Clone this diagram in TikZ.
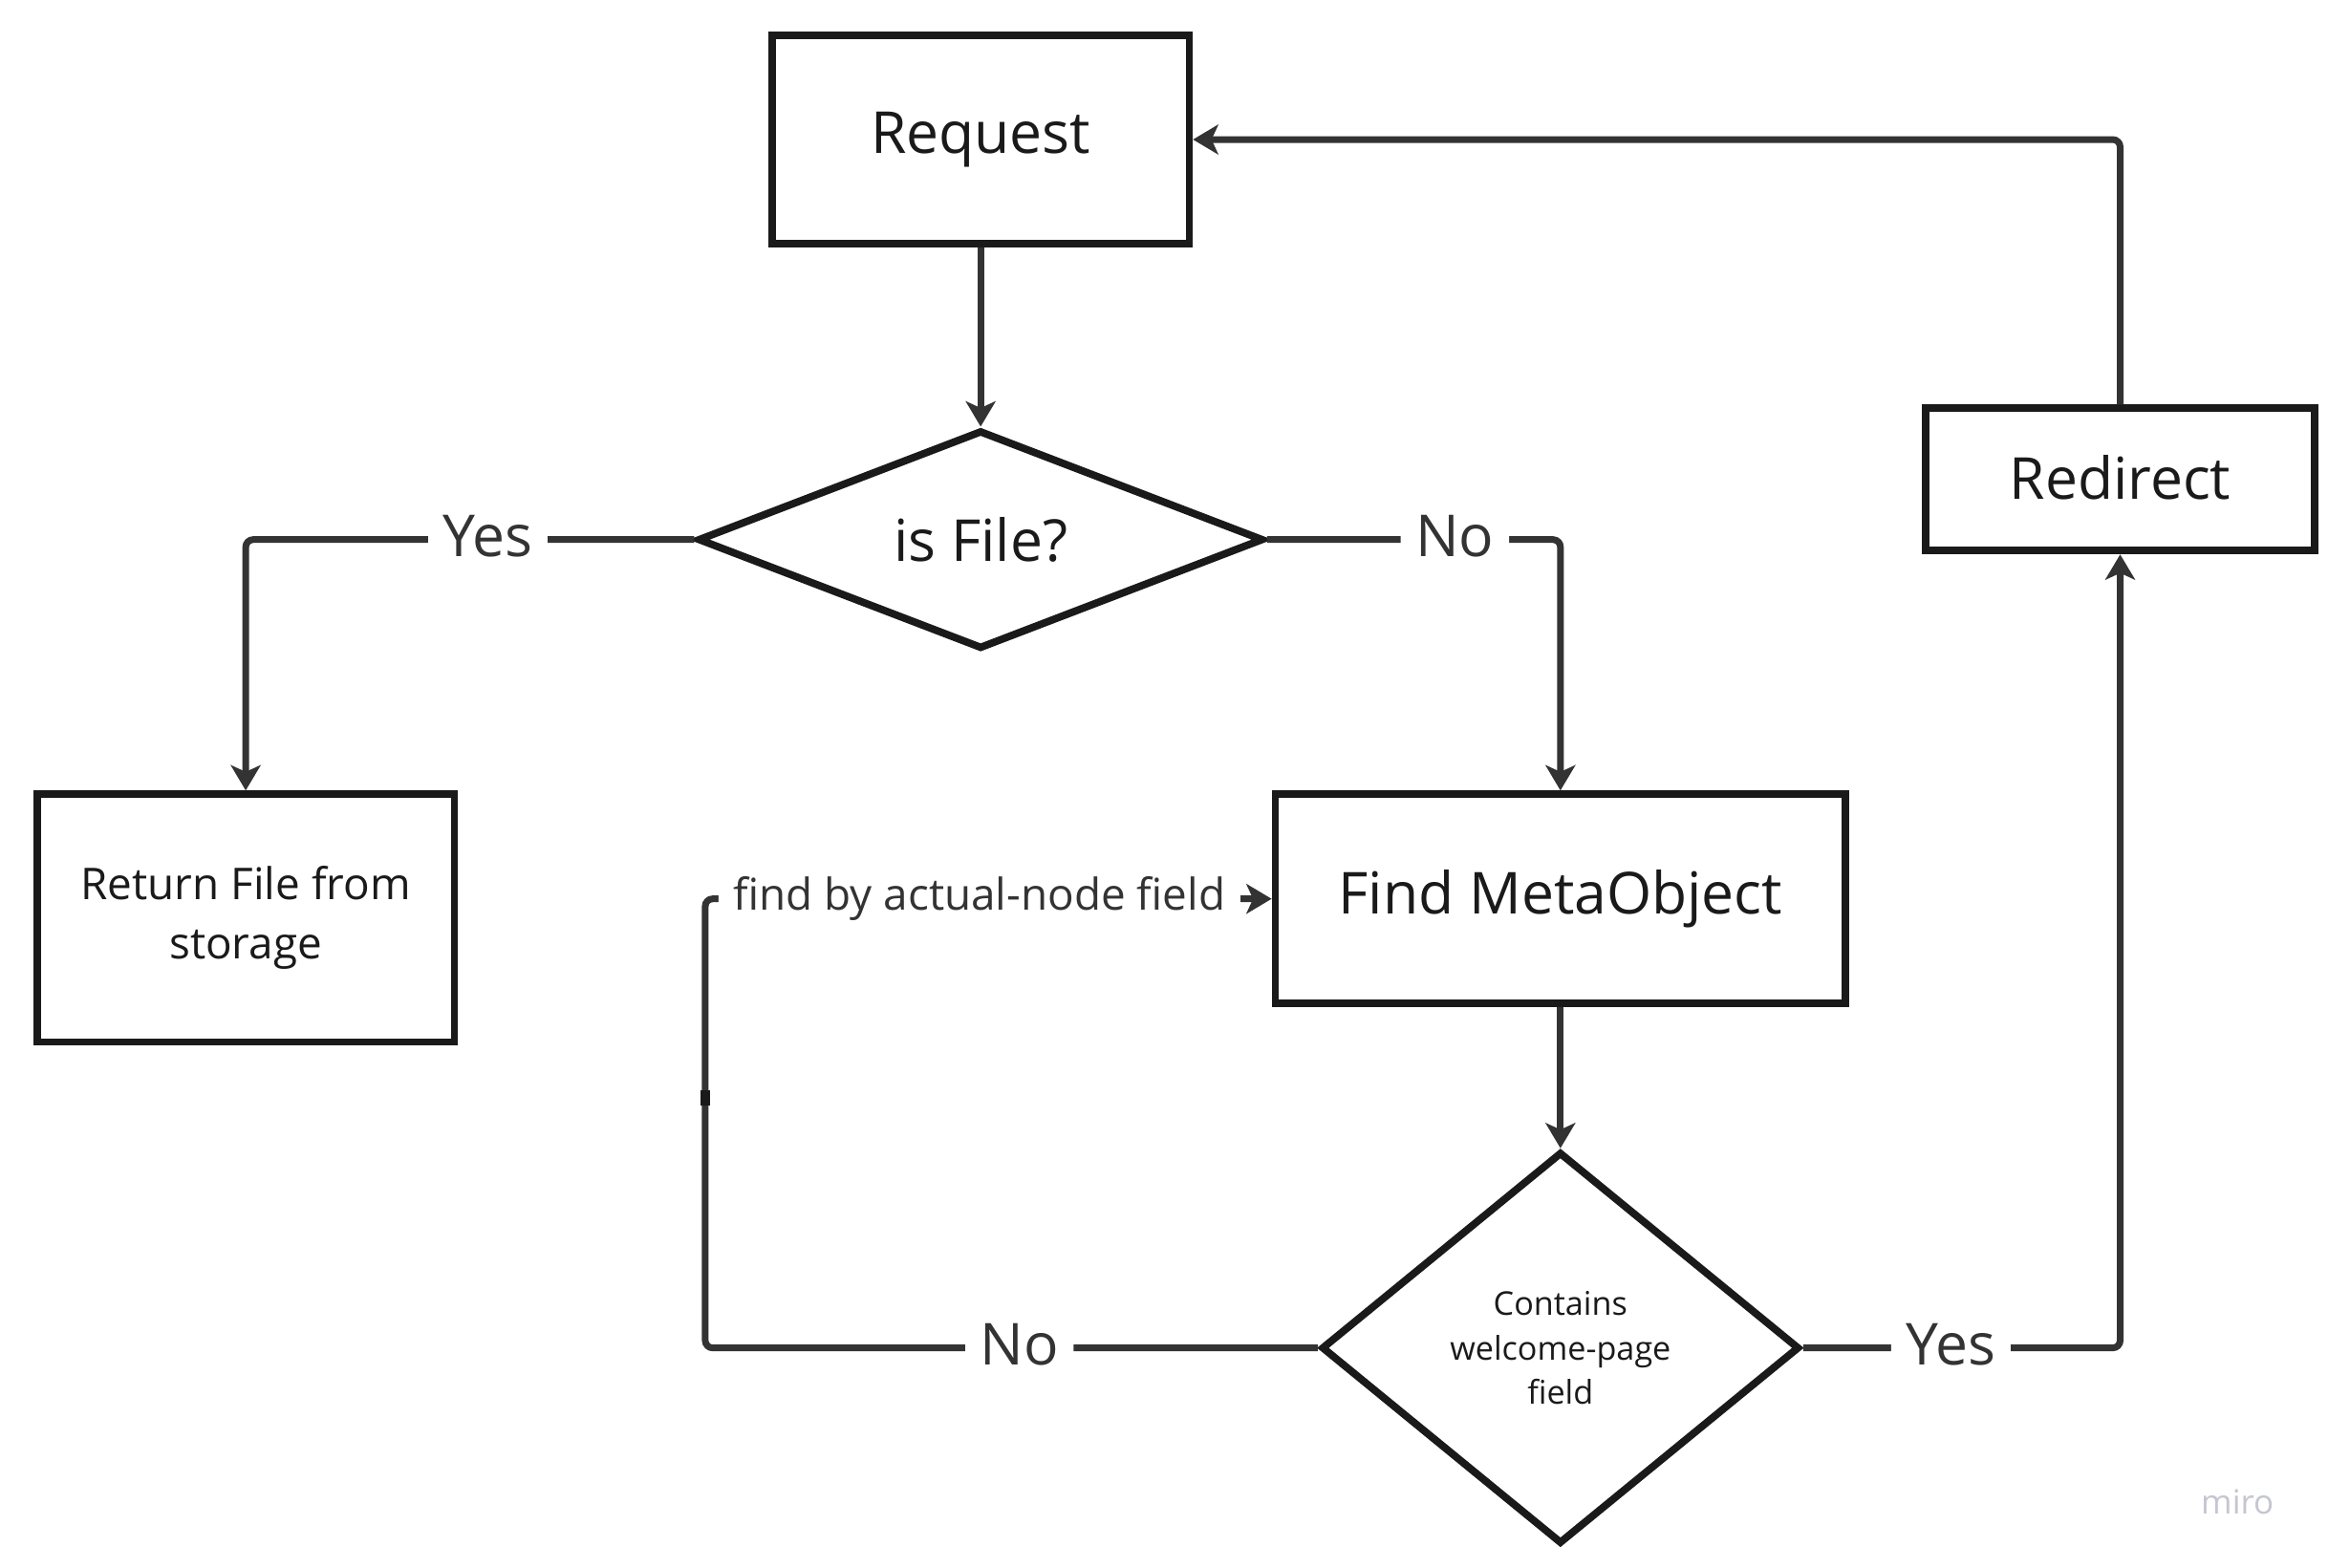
\documentclass[tikz,border=0pt]{standalone}
\usepackage{fontspec}
\setmainfont{Open Sans}
\usetikzlibrary{shapes.geometric,arrows.meta}
\definecolor{boxc}{HTML}{1A1A1A}
\definecolor{linec}{HTML}{333333}
\definecolor{miroc}{HTML}{C5C6D2}
\begin{document}
\begin{tikzpicture}[x=1pt,y=-1pt,
  box/.style={draw=boxc, line width=5pt, fill=white, rectangle, inner sep=0pt, text=boxc, align=center},
  dia/.style={draw=boxc, line width=5pt, fill=white, diamond, inner sep=0pt, text=boxc, align=center},
  conn/.style={draw=linec, line width=4.5pt, rounded corners=5pt, -{Stealth[length=17pt,width=20pt,inset=4.5pt]}},
  lbl/.style={fill=white, text=linec, inner xsep=10pt, inner ysep=2pt, yshift=2.5pt, font=\fontsize{39}{46}\selectfont},
  flbl/.style={fill=white, text=linec, inner xsep=10pt, inner ysep=2pt, font=\fontsize{29.5}{36}\selectfont},
  big/.style={font=\fontsize{39}{46}\selectfont}]
\useasboundingbox (0,0) rectangle (1568,1056);
\fill[white] (0,0) rectangle (1568,1056);

\node[box, big, minimum width=281pt, minimum height=140pt] (req) at (660.5,94) {Request};
\node[dia, big, minimum width=381pt, minimum height=143pt] (isf) at (660.5,363.5) {is File?};
\node[box, font=\fontsize{29.5}{40}\selectfont, minimum width=281pt, minimum height=167pt] (ret) at (165.5,618.5) {Return File from\\storage};
\node[box, big, minimum width=384pt, minimum height=141pt] (find) at (1051,605.5) {Find MetaObject};
\node[dia, font=\fontsize{22}{30}\selectfont, minimum width=322pt, minimum height=264pt] (cont) at (1051,908) {Contains\\welcome-page\\field};
\node[box, big, minimum width=262pt, minimum height=96pt] (redir) at (1428,323) {\raisebox{2.5pt}{Redirect}};

\coordinate (c1) at (475,908);

\draw[conn] (req.south) -- (isf.north);
\draw[conn] (isf.west) -| node[lbl,pos=0.23]{Yes} (ret.north);
\draw[conn] (isf.east) -| node[lbl,pos=0.32]{No} (find.north);
\draw[conn] (find.south) -- (cont.north);
\draw[conn] (cont.west) -- node[lbl,pos=0.487]{No} (c1) -- (c1 |- find.west) -- node[flbl,pos=0.484]{find by actual-node field} (find.west);
\draw[conn] (cont.east) -| node[lbl,pos=0.233]{Yes} (redir.south);
\draw[conn] (redir.north) |- (req.east);

\fill[boxc] (471.5,734.5) rectangle (478.5,744.5);

\node[text=miroc, font=\fontsize{22.5}{26}\selectfont] (miro) at (1507,1012) {miro};
\end{tikzpicture}
\end{document}
